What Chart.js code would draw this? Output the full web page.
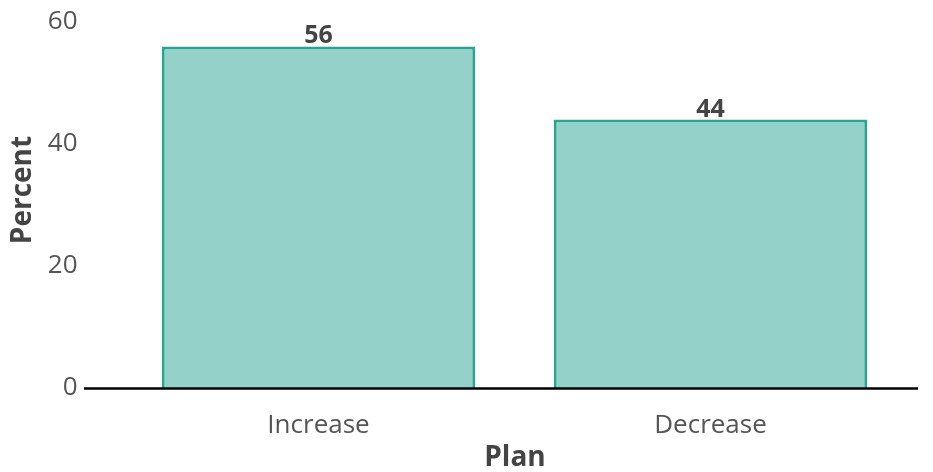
<!DOCTYPE html>
<html>
<head>
<meta charset="utf-8">
<script src="https://cdn.jsdelivr.net/npm/chart.js@4/dist/chart.umd.min.js"></script>
<style>
html,body{margin:0;padding:0;background:#fff;}
#wrap{width:933px;height:472px;position:relative;}
</style>
</head>
<body>
<div id="wrap"><canvas id="c" width="933" height="472"></canvas></div>
<script>
const categories = ["Increase", "Decrease"];
const percentValues = [56, 44];
const yTicks = [0, 20, 40, 60];
const xTitle = "Plan";
const yTitle = "Percent";

const FONT = "'Open Sans', sans-serif";

const extras = {
  id: 'extras',
  afterDatasetsDraw(chart) {
    const ctx = chart.ctx;
    const y = chart.scales.y.getPixelForValue(0);
    ctx.save();
    ctx.strokeStyle = '#000';
    ctx.lineWidth = 2.5;
    ctx.beginPath();
    ctx.moveTo(84, y + 0.5);
    ctx.lineTo(918, y + 0.5);
    ctx.stroke();
    const meta = chart.getDatasetMeta(0);
    ctx.fillStyle = '#444444';
    ctx.font = "bold 25px " + FONT;
    ctx.textAlign = 'center';
    ctx.textBaseline = 'alphabetic';
    meta.data.forEach((bar, i) => {
      ctx.fillText(String(percentValues[i]), bar.x, bar.y - 3);
    });
    // axis titles
    ctx.font = "bold 28px " + FONT;
    ctx.textBaseline = 'middle';
    ctx.fillText(xTitle, 515, 458);
    ctx.translate(23, 190);
    ctx.rotate(-Math.PI / 2);
    ctx.fillText(yTitle, 0, 0);
    ctx.restore();
  }
};

new Chart(document.getElementById('c'), {
  type: 'bar',
  data: {
    labels: categories,
    datasets: [{
      data: percentValues,
      backgroundColor: '#94d1c8',
      borderColor: '#26a592',
      borderWidth: 3,
      borderSkipped: 'bottom',
      categoryPercentage: 1.0,
      barPercentage: 0.8
    }]
  },
  options: {
    responsive: false,
    animation: false,
    layout: { padding: { top: 22, right: 26.5, bottom: 0, left: 0 } },
    plugins: { legend: { display: false }, tooltip: { enabled: false } },
    scales: {
      x: {
        grid: { display: false, drawTicks: false },
        border: { display: false },
        ticks: { color: '#555555', font: { family: FONT, size: 26 }, padding: 22 },
        title: { display: false },
        afterFit: s => { s.height = 84; }
      },
      y: {
        min: 0, max: 60,
        afterBuildTicks: s => { s.ticks = yTicks.map(v => ({ value: v })); },
        grid: { display: false, drawTicks: false },
        border: { display: false },
        ticks: { color: '#555555', font: { family: FONT, size: 26 }, padding: 45 },
        title: { display: false },
        afterFit: s => { s.width = 122.5; s.paddingTop = 0; s.paddingBottom = 0; }
      }
    }
  },
  plugins: [extras]
});
</script>
</body>
</html>
